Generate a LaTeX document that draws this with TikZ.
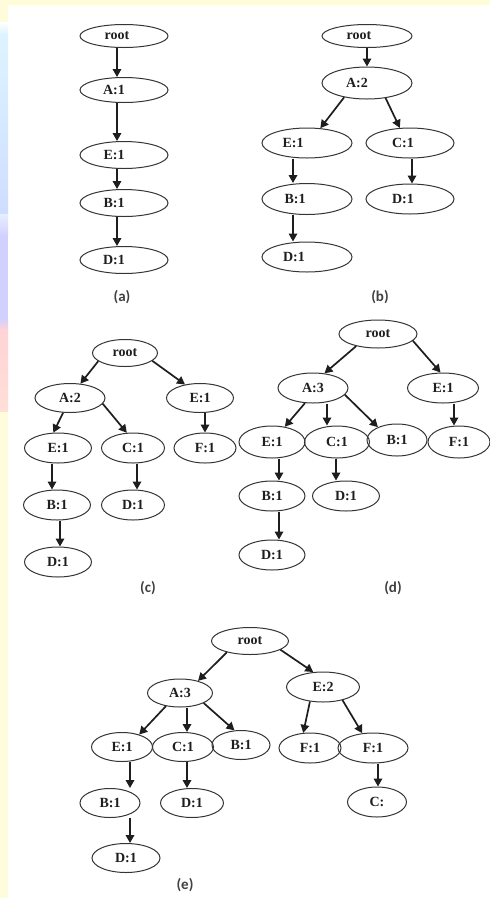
\documentclass[tikz,border=0pt]{standalone}
\usepackage{fontspec}
\setmainfont{Liberation Serif}
\newfontfamily\capfont{Carlito}
\usetikzlibrary{shapes.geometric,arrows.meta}

\definecolor{ink}{HTML}{1E1E1E}
\definecolor{slideyel}{HTML}{FFFCDC}
\definecolor{stripcyan}{HTML}{DDF4FF}
\definecolor{stripblue}{HTML}{CFDDFF}
\definecolor{striplav}{HTML}{D2D0FF}
\definecolor{strippink}{HTML}{FFD3D6}

% text set left of the ellipse centre by half the kern
\newcommand\shtext[2]{#2\kern#1pt}

\tikzset{
  nd/.style={ellipse, draw=ink!90, line width=1pt, inner sep=0pt, text=ink,
             font=\bfseries\fontsize{14}{14}\selectfont},
  sz/.style 2 args={minimum width=#1pt, minimum height=#2pt},
  ar/.style={draw=ink, line width=1.7pt, -{Triangle[width=8.5pt,length=8pt]}},
  sublabel/.style={font=\capfont\bfseries\fontsize{15}{15}\selectfont, text=ink!85}
}

\begin{document}
\begin{tikzpicture}[x=1pt,y=-1pt]
% slide background
\fill[white] (0,0) rectangle (490,898);
\useasboundingbox (0,0) rectangle (490,898);
\fill[slideyel] (0,0) rectangle (490,5);
\fill[slideyel] (0,0) rectangle (8,22);
\shade[top color=white, bottom color=stripcyan] (0,22) rectangle (8,34);
\shade[top color=stripcyan, bottom color=stripblue] (0,34) rectangle (8,214);
\shade[top color=stripblue!50, bottom color=striplav] (0,214) rectangle (8,236);
\fill[striplav] (0,236) rectangle (8,318);
\shade[top color=striplav, bottom color=strippink] (0,318) rectangle (8,330);
\shade[top color=strippink, bottom color=strippink!70!slideyel] (0,330) rectangle (8,412);
\fill[slideyel] (0,412) rectangle (8,898);

% ---------- tree (a) ----------
\node[nd,sz={88}{23}] (ra)  at (124,36)  {\shtext{14}{root}};
\node[nd,sz={88}{25}] (a1)  at (124,90)  {\shtext{20}{A:1}};
\node[nd,sz={88}{27}] (e1)  at (124,155) {\shtext{20}{E:1}};
\node[nd,sz={88}{27}] (b1)  at (124,203) {\shtext{20}{B:1}};
\node[nd,sz={88}{27}] (d1)  at (124,260) {\shtext{20}{D:1}};
\draw[ar] ([xshift=-7pt]ra.south) -- ([xshift=-7pt]a1.north);
\draw[ar] ([xshift=-7pt]a1.south) -- ([xshift=-7pt]e1.north);
\draw[ar] ([xshift=-7pt]e1.south) -- ([xshift=-7pt]b1.north);
\draw[ar] ([xshift=-7pt]b1.south) -- ([xshift=-7pt]d1.north);
\node[sublabel] (la) at (122,297) {(a)};

% ---------- tree (b) ----------
\node[nd,sz={90}{23}] (rb)  at (367,36)  {\shtext{16}{root}};
\node[nd,sz={90}{32}] (ab)  at (367,83)  {\shtext{20}{A:2}};
\node[nd,sz={90}{30}] (eb)  at (307,143) {\shtext{28}{E:1}};
\node[nd,sz={88}{30}] (cb)  at (410,143) {\shtext{14}{C:1}};
\node[nd,sz={90}{31}] (bb)  at (307,199) {\shtext{24}{B:1}};
\node[nd,sz={88}{30}] (db1) at (410,199) {\shtext{14}{D:1}};
\node[nd,sz={90}{30}] (db2) at (307,257) {\shtext{26}{D:1}};
\draw[ar] (rb.south) -- (ab.north);
\draw[ar] (ab.-148) -- (eb.48);
\draw[ar] (ab.-39) -- (cb.124);
\draw[ar] ([xshift=-14pt]eb.south) -- ([xshift=-14pt]bb.north);
\draw[ar] ([xshift=2pt]cb.south) -- ([xshift=2pt]db1.north);
\draw[ar] ([xshift=-14pt]bb.south) -- ([xshift=-14pt]db2.north);
\node[sublabel] (lb) at (380,297) {(b)};

% ---------- tree (c) ----------
\node[nd,sz={65}{27}] (rc)  at (125,353) {root};
\node[nd,sz={70}{29}] (ac)  at (70,398)  {A:2};
\node[nd,sz={67}{29}] (fc1) at (200,398) {E:1};
\node[nd,sz={67}{30}] (ec)  at (58,448)  {E:1};
\node[nd,sz={63}{30}] (cc)  at (133,448) {C:1};
\node[nd,sz={62}{30}] (fc2) at (205,448) {F:1};
\node[nd,sz={67}{30}] (bc)  at (57,505)  {B:1};
\node[nd,sz={63}{30}] (dc1) at (133,505) {D:1};
\node[nd,sz={67}{30}] (dc2) at (58,562)  {D:1};
\draw[ar] (rc.-163) -- (ac.54);
\draw[ar] (rc.-16) -- (fc1.138);
\draw[ar] (ac.-115) -- (ec.107);
\draw[ar] (ac.-10) -- (cc.112);
\draw[ar] ([xshift=-6pt]ec.south) -- ([xshift=-5pt]bc.north);
\draw[ar] ([xshift=4pt]cc.south) -- ([xshift=4pt]dc1.north);
\draw[ar] ([xshift=5pt]fc1.south) -- (fc2.north);
\draw[ar] ([xshift=3pt]bc.south) -- ([xshift=2pt]dc2.north);
\node[sublabel] (lc) at (148,588) {(c)};

% ---------- tree (d) ----------
\node[nd,sz={78}{28}] (rd)  at (378,334) {root};
\node[nd,sz={70}{30}] (ad)  at (313,388) {A:3};
\node[nd,sz={71}{30}] (ed)  at (443,388) {E:1};
\node[nd,sz={66}{32}] (ed2) at (272,442) {E:1};
\node[nd,sz={65}{32}] (cd)  at (337,442) {C:1};
\node[nd,sz={60}{32}] (bd)  at (397,440) {B:1};
\node[nd,sz={62}{32}] (fd)  at (459,442) {F:1};
\node[nd,sz={66}{30}] (bd2) at (272,496) {B:1};
\node[nd,sz={67}{30}] (dd1) at (346,496) {D:1};
\node[nd,sz={66}{30}] (dd2) at (272,555) {D:1};
\draw[ar] (rd.-151) -- (ad.52);
\draw[ar] (rd.-11) -- (ed.99);
\draw[ar] (ad.-118) -- (ed2.50);
\draw[ar] ([xshift=14pt]ad.south) -- ([xshift=-10pt]cd.north);
\draw[ar] (ad.-12) -- (bd.146);
\draw[ar] ([xshift=11pt]ed.south) -- ([xshift=-5pt]fd.north);
\draw[ar] ([xshift=7pt]ed2.south) -- ([xshift=7pt]bd2.north);
\draw[ar] ([xshift=-1pt]cd.south) -- ([xshift=-10pt]dd1.north);
\draw[ar] ([xshift=7pt]bd2.south) -- ([xshift=7pt]dd2.north);
\node[sublabel] (ld) at (393,588) {(d)};

% ---------- tree (e) ----------
\node[nd,sz={77}{27}] (re)  at (250,641) {root};
\node[nd,sz={65}{28}] (ae)  at (180,693) {A:3};
\node[nd,sz={73}{30}] (ee)  at (323,687) {E:2};
\node[nd,sz={61}{29}] (ee1) at (122,747) {E:1};
\node[nd,sz={61}{29}] (ce)  at (183,747) {C:1};
\node[nd,sz={58}{29}] (be)  at (241,745) {B:1};
\node[nd,sz={62}{30}] (fe1) at (310,748) {F:1};
\node[nd,sz={70}{30}] (fe2) at (373,748) {F:1};
\node[nd,sz={60}{29}] (be2) at (110,803) {B:1};
\node[nd,sz={63}{29}] (de1) at (192,803) {D:1};
\node[nd,sz={59}{30}] (ce2) at (377,802) {C:};
\node[nd,sz={68}{29}] (de2) at (126,858) {D:1};
\draw[ar] (re.-154) -- (ae.34);
\draw[ar] (re.-16) -- (ee.123);
\draw[ar] (ae.-137) -- (ee1.36);
\draw[ar] ([xshift=7pt]ae.south) -- ([xshift=4pt]ce.north);
\draw[ar] (ae.-23) -- (be.114);
\draw[ar] (ee.-132) -- (fe1.114);
\draw[ar] (ee.-34) -- (fe2.126);
\draw[ar] ([xshift=8pt]ee1.south) -- ([xshift=20pt]be2.north);
\draw[ar] ([xshift=4pt]ce.south) -- ([xshift=-5pt]de1.north);
\draw[ar] ([xshift=20pt]be2.south) -- ([xshift=4pt]de2.north);
\draw[ar] ([xshift=5pt]fe2.south) -- ([xshift=1pt]ce2.north);
\node[sublabel] (le) at (185,885) {(e)};
\end{tikzpicture}
\end{document}
